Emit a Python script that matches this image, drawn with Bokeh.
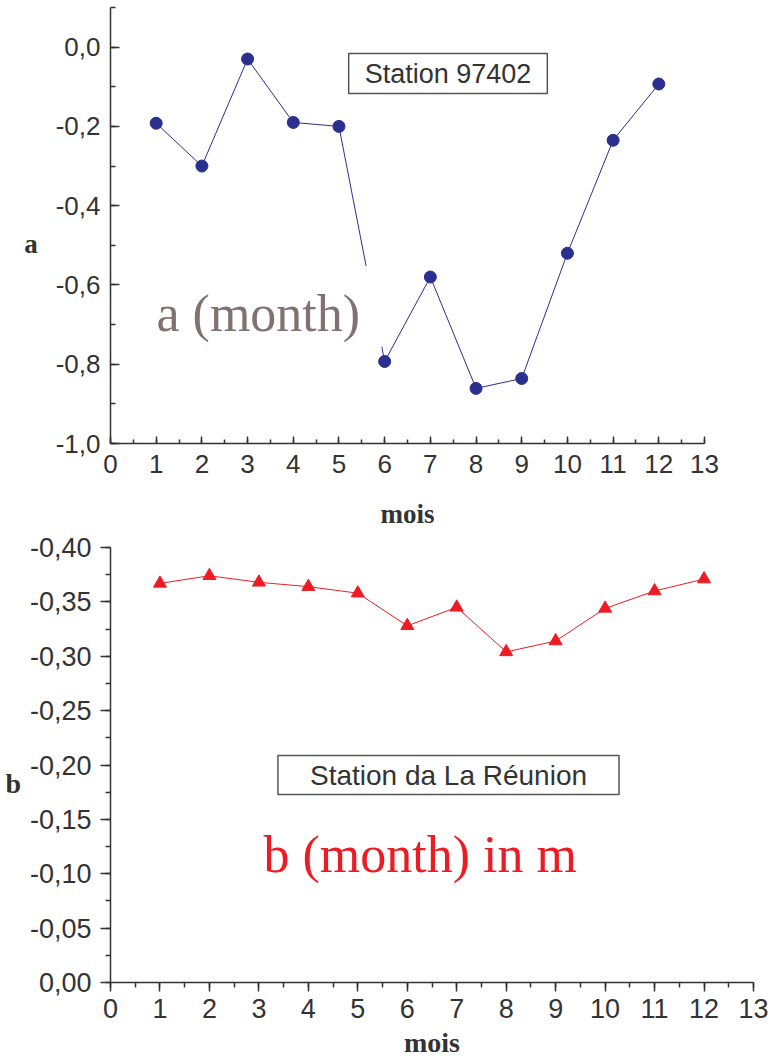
from bokeh.plotting import figure
from bokeh.layouts import column
from bokeh.models import Range1d, FixedTicker, CustomJSTickFormatter, Label
from bokeh.embed import file_html
from bokeh.resources import INLINE
import numpy as np

# ---------------- data ----------------
months = [1, 2, 3, 4, 5, 6, 7, 8, 9, 10, 11, 12]
a_values = [-0.192, -0.300, -0.030, -0.190, -0.200, -0.793, -0.580, -0.861, -0.836, -0.520, -0.235, -0.093]
b_values = [-0.367, -0.374, -0.368, -0.364, -0.358, -0.328, -0.345, -0.304, -0.314, -0.344, -0.360, -0.371]

x_ticks = list(range(0, 14))
a_ticks = [-1.0, -0.8, -0.6, -0.4, -0.2, 0.0]
b_ticks = [0.0, -0.05, -0.10, -0.15, -0.20, -0.25, -0.30, -0.35, -0.40]

a_title = "Station 97402"
b_title = "Station da La Réunion"
a_note = "a (month)"
b_note = "b (month) in m"
x_label = "mois"
a_label = "a"
b_label = "b"

SANS = "Liberation Sans"
SERIF = "Liberation Serif"
AX = "#333333"
NAVY = "#2b2f8e"
RED = "#ed1c24"


def style_common(p):
    p.grid.visible = False
    p.outline_line_color = None
    p.background_fill_color = "white"
    p.border_fill_color = "white"
    for ax in (p.xaxis[0], p.yaxis[0]):
        ax.axis_line_color = AX
        ax.axis_line_width = 1.5
        ax.major_tick_line_color = AX
        ax.major_tick_line_width = 1.5
        ax.minor_tick_line_color = AX
        ax.minor_tick_line_width = 1.5
        ax.major_label_text_color = AX
        ax.major_label_text_font = SANS
        ax.axis_label_text_font = SERIF
        ax.axis_label_text_font_style = "bold"
        ax.axis_label_text_color = AX


# ---------------- top chart ----------------
p1 = figure(frame_width=594, frame_height=436, min_border_left=110, min_border_right=74,
            min_border_top=7, min_border_bottom=89, output_backend="svg",
            toolbar_location=None, x_range=Range1d(0, 13), y_range=Range1d(-1.0, 0.1))
style_common(p1)
p1.xaxis.ticker = FixedTicker(ticks=x_ticks, minor_ticks=list(np.arange(0, 13.01, 0.5)))
p1.yaxis.ticker = FixedTicker(ticks=a_ticks, minor_ticks=list(np.round(np.arange(-1.0, 0.101, 0.1), 2)))
p1.yaxis.formatter = CustomJSTickFormatter(code="""
    const v = Math.abs(tick) < 1e-9 ? 0 : tick;
    return v.toFixed(1).replace('.', ',');
""")
p1.xaxis.formatter = CustomJSTickFormatter(code="return tick.toFixed(0);")
p1.yaxis.major_tick_in = 9
p1.yaxis.major_tick_out = 0
p1.yaxis.minor_tick_in = 5
p1.yaxis.minor_tick_out = 0
p1.xaxis.major_tick_in = 7
p1.xaxis.major_tick_out = 0
p1.xaxis.minor_tick_in = 4
p1.xaxis.minor_tick_out = 0
p1.yaxis.major_label_text_font_size = "26px"
p1.xaxis.major_label_text_font_size = "26px"
p1.yaxis.major_label_standoff = 10
p1.xaxis.major_label_standoff = 11
p1.xaxis.axis_label = x_label
p1.xaxis.axis_label_text_font_size = "27px"
p1.xaxis.axis_label_standoff = 23
p1.yaxis.axis_label = "\n" + a_label
p1.yaxis.axis_label_orientation = "horizontal"
p1.yaxis.axis_label_text_font_size = "27px"
p1.yaxis.axis_label_standoff = 15

p1.line(months, a_values, line_color=NAVY, line_width=1)
p1.scatter(months, a_values, marker="circle", size=12, fill_color=NAVY, line_color=NAVY)

p1.add_layout(Label(x=40, y=137, x_units="screen", y_units="screen", text=a_note,
                    text_font=SERIF, text_font_size="52px", text_color="#807270",
                    text_align="left", text_baseline="alphabetic",
                    background_fill_color="white",
                    padding=dict(left=6, right=22, top=19, bottom=5)))
p1.add_layout(Label(x=337.5, y=370, x_units="screen", y_units="screen", text=a_title,
                    text_font=SANS, text_font_size="27px", text_color=AX,
                    text_align="center", text_baseline="middle",
                    background_fill_color="white", border_line_color="#555555",
                    border_line_width=1.5, padding=dict(left=16, right=16, top=5, bottom=5)))

# ---------------- bottom chart ----------------
p2 = figure(frame_width=643, frame_height=435, min_border_left=110, min_border_right=25,
            min_border_top=15, min_border_bottom=74, output_backend="svg",
            toolbar_location=None, x_range=Range1d(0, 13), y_range=Range1d(0.0, -0.40))
style_common(p2)
p2.xaxis.ticker = FixedTicker(ticks=x_ticks, minor_ticks=list(np.arange(0, 13.01, 0.5)))
p2.yaxis.ticker = FixedTicker(ticks=b_ticks, minor_ticks=list(np.round(np.arange(-0.40, 0.001, 0.025), 3)))
p2.yaxis.formatter = CustomJSTickFormatter(code="""
    const v = Math.abs(tick) < 1e-9 ? 0 : tick;
    return v.toFixed(2).replace('.', ',');
""")
p2.xaxis.formatter = CustomJSTickFormatter(code="return tick.toFixed(0);")
p2.yaxis.major_tick_in = 0
p2.yaxis.major_tick_out = 10
p2.yaxis.minor_tick_in = 0
p2.yaxis.minor_tick_out = 5
p2.xaxis.major_tick_in = 0
p2.xaxis.major_tick_out = 9
p2.xaxis.minor_tick_in = 0
p2.xaxis.minor_tick_out = 5
p2.yaxis.major_label_text_font_size = "27px"
p2.xaxis.major_label_text_font_size = "27px"
p2.yaxis.major_label_standoff = 9
p2.xaxis.major_label_standoff = 7
p2.xaxis.axis_label = x_label
p2.xaxis.axis_label_text_font_size = "28px"
p2.xaxis.axis_label_standoff = 6
p2.yaxis.axis_label = "\n" + b_label
p2.yaxis.axis_label_orientation = "horizontal"
p2.yaxis.axis_label_text_font_size = "28px"
p2.yaxis.axis_label_standoff = 6

p2.line(months, b_values, line_color=RED, line_width=1)
p2.scatter(months, b_values, marker="triangle", size=13, fill_color=RED, line_color=RED)

p2.add_layout(Label(x=338, y=207.5, x_units="screen", y_units="screen", text=b_title,
                    text_font=SANS, text_font_size="28px", text_color=AX,
                    text_align="center", text_baseline="middle",
                    background_fill_color="white", border_line_color="#555555",
                    border_line_width=1.5, padding=dict(left=32, right=32, top=4, bottom=4)))
p2.add_layout(Label(x=153, y=128, x_units="screen", y_units="screen", text=b_note,
                    text_font=SERIF, text_font_size="52px", text_color=RED,
                    text_align="left", text_baseline="alphabetic"))

layout = column(p1, p2, spacing=0)
open("out.html", "w").write(file_html(layout, INLINE))
